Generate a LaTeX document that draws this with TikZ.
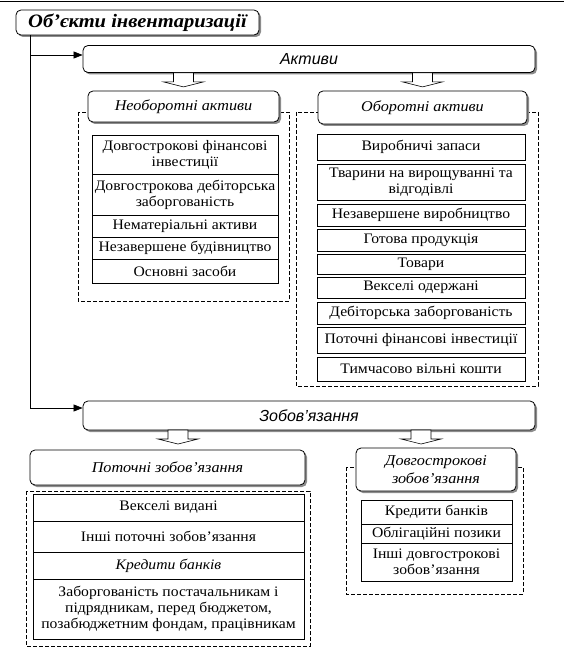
\documentclass[tikz,border=0pt]{standalone}
\usepackage{fontspec}
\setmainfont{Liberation Serif}[FakeStretch=1.08]
\setsansfont{Liberation Sans}
\usepackage{tikz}
\usetikzlibrary{shadows}
\usetikzlibrary{arrows.meta}

\tikzset{hollow/.pic={\draw[line width=0.6pt, fill=white] (-10,0) -- (10,0) -- (10,-9) -- (20,-9) -- (0,-14) -- (-20,-9) -- (-10,-9) -- cycle;}}

\begin{document}
\begin{tikzpicture}[x=1pt,y=1pt,yscale=-1,xscale=1,
  hdr/.style={draw, line width=0.8pt, rounded corners=5pt, fill=white, inner sep=0pt, align=center,
    drop shadow={shadow xshift=2pt, shadow yshift=-2pt, fill=black!45, opacity=1}},
  cell/.style={draw, line width=0.6pt, fill=white, inner sep=0pt, align=center, font=\fontsize{14.5}{16}\selectfont},
  grp/.style={draw, line width=0.7pt, dash pattern=on 4pt off 2pt},
  feed/.style={-{Triangle[length=9pt,width=7pt]}, line width=0.7pt}]
\useasboundingbox (0,0) rectangle (564,655);

%Straight Lines: page rule
\draw [line width=1.5pt] (0,1.5) -- (564,1.5) ;

%Shape: headers
\node [hdr, minimum width=243, minimum height=25, font=\fontsize{19}{20}\selectfont\bfseries\itshape] (title) at (137.5,22.5) {Об’єкти інвентаризації};
\node [hdr, minimum width=452, minimum height=27, font=\fontsize{16}{17}\selectfont\sffamily\itshape] (aktyvy) at (309,59) {Активи};
\node [hdr, minimum width=452, minimum height=29, font=\fontsize{16}{17}\selectfont\sffamily\itshape] (zobov) at (309,415.5) {Зобов’язання};

%Straight Lines: trunk
\coordinate (ta) at (30,55);
\coordinate (tb) at (30,408);
\draw [line width=0.7pt] (title.south -| ta) -- (tb) ;
\draw [feed] (ta) -- (ta -| aktyvy.west) ;
\draw [feed] (tb) -- (tb -| zobov.west) ;

%Shape: dashed groups
\draw [grp] (78,112) rectangle (289,301) ;
\draw [grp] (296,112) rectangle (538,386) ;
\draw [grp] (26,491) rectangle (310,646) ;
\draw [grp] (346,467) rectangle (523,594) ;

%Shape: sub headers
\node [hdr, minimum width=191, minimum height=31, font=\fontsize{15}{16}\selectfont\itshape] (neobor) at (183.5,106.5) {Необоротні активи};
\node [hdr, minimum width=209, minimum height=33, font=\fontsize{15}{16}\selectfont\itshape] (obor) at (422.5,107.5) {Оборотні активи};
\node [hdr, minimum width=275, minimum height=35, font=\fontsize{15}{16}\selectfont\itshape] (potoch) at (167.5,467.5) {Поточні зобов’язання};
\node [hdr, minimum width=160, minimum height=43, font=\fontsize{15}{18}\selectfont\itshape] (dovg) at (436,469.5) {Довгострокові\\зобов’язання};

%Shape: hollow arrows
\pic at (neobor.north |- aktyvy.south) {hollow};
\pic at (obor.north |- aktyvy.south) {hollow};
\pic at (178,430) {hollow};
\pic at (421,430) {hollow};

% Text Node: non-current assets
\node [cell, minimum width=186, minimum height=39] (n1) at (185,154.5) {Довгострокові фінансові\\інвестиції};
\node [cell, minimum width=186, minimum height=41] (n2) at (185,194.5) {Довгострокова дебіторська\\заборгованість};
\node [cell, minimum width=186, minimum height=22] (n3) at (185,226) {Нематеріальні активи};
\node [cell, minimum width=186, minimum height=22] (n4) at (185,248) {Незавершене будівництво};
\node [cell, minimum width=186, minimum height=24] (n5) at (185,271) {Основні засоби};

% Text Node: current assets
\node [cell, minimum width=208, minimum height=26] (o1) at (421,147) {Виробничі запаси};
\node [cell, minimum width=208, minimum height=36] (o2) at (421,182) {Тварини на вирощуванні та\\відгодівлі};
\node [cell, minimum width=208, minimum height=22] (o3) at (421,215) {Незавершене виробництво};
\node [cell, minimum width=208, minimum height=22] (o4) at (421,240) {Готова продукція};
\node [cell, minimum width=208, minimum height=20] (o5) at (421,264) {Товари};
\node [cell, minimum width=208, minimum height=21] (o6) at (421,287.5) {Векселі одержані};
\node [cell, minimum width=208, minimum height=22] (o7) at (421,313) {Дебіторська заборгованість};
\node [cell, minimum width=208, minimum height=26] (o8) at (421,340) {Поточні фінансові інвестиції};
\node [cell, minimum width=208, minimum height=24] (o9) at (421,369) {Тимчасово вільні кошти};

% Text Node: current liabilities
\node [cell, minimum width=271, minimum height=27] (p1) at (168.5,507.5) {Векселі видані};
\node [cell, minimum width=271, minimum height=31] (p2) at (168.5,536.5) {Інші поточні зобов’язання};
\node [cell, minimum width=271, minimum height=27, font=\fontsize{14.5}{16}\selectfont\itshape] (p3) at (168.5,565.5) {Кредити банків};
\node [cell, minimum width=271, minimum height=60] (p4) at (168.5,609) {Заборгованість постачальникам і\\підрядникам, перед бюджетом,\\позабюджетним фондам, працівникам};

% Text Node: long-term liabilities
\node [cell, minimum width=151, minimum height=24] (d1) at (436.5,512) {Кредити банків};
\node [cell, minimum width=151, minimum height=19] (d2) at (436.5,533.5) {Облігаційні позики};
\node [cell, minimum width=151, minimum height=38] (d3) at (436.5,562) {Інші довгострокові\\зобов’язання};

\end{tikzpicture}
\end{document}
